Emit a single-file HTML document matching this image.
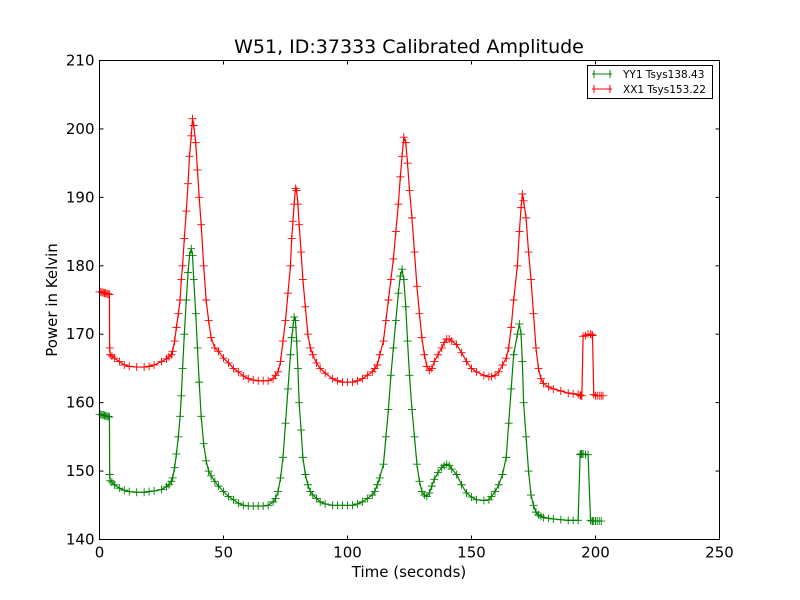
<!DOCTYPE html>
<html><head><meta charset="utf-8"><style>
body{margin:0;background:#fff;}
svg{display:block;font-family:"DejaVu Sans","Liberation Sans",sans-serif;}
</style></head><body>
<svg id="chart" width="800" height="600">
<rect x="0" y="0" width="800" height="600" fill="#fff"/>
<text x="409" y="53" font-size="19" text-anchor="middle">W51, ID:37333 Calibrated Amplitude</text>
<text x="409" y="577" font-size="15" text-anchor="middle">Time (seconds)</text>
<text transform="translate(57,300) rotate(-90)" font-size="15" text-anchor="middle">Power in Kelvin</text>
<g id="plot"></g>
<g id="axes"></g>
<g id="legend">
<rect x="587.5" y="65.5" width="125" height="33" fill="#fff" stroke="#000" stroke-width="1"/>
<g>
<line x1="592" y1="74" x2="612" y2="74" stroke="green"/><line x1="594" y1="70" x2="594" y2="78" stroke="green"/><line x1="610" y1="70" x2="610" y2="78" stroke="green"/>
<text x="623" y="78" font-size="10.5">YY1 Tsys138.43</text></g>
<g>
<line x1="592" y1="89" x2="612" y2="89" stroke="red"/><line x1="594" y1="85" x2="594" y2="93" stroke="red"/><line x1="610" y1="85" x2="610" y2="93" stroke="red"/>
<text x="623" y="93" font-size="10.5">XX1 Tsys153.22</text></g>
</g>
</svg>
<script>
const xTicks=[0,50,100,150,200,250];
const yTicks=[140,150,160,170,180,190,200,210];
const redT=[0,0.5,1,1.5,2,2.5,3,3.5,4,4.1,4.3,5,6,8,10,12,15,18,20,22,25,27,28,29,29.5,30.3,31,31.8,32.5,33,33.5,34.2,35,35.7,36.3,37,37.5,38,38.8,39.5,40.2,41,42,43,44,45,46.5,48,50,52,54,56,58,60,62,64,66,68,70,71,72,73,74,75,76,77,77.5,78,78.5,79,79.5,80,80.5,81.3,82,83,84,85,86,87.5,89,91,94,96,98,100,102,104,106,108,110,111,112,113,114.5,115.5,116.5,117.5,118.5,119.5,120.5,121.3,122,122.7,123.5,124.2,125,126,127,128,129,130,131,132,133,134,135,136.5,138,139,140,141,142,144,146,148,150,152,155,157,158,159.5,161,162.5,164,165,166,167,168.5,169.3,170,170.5,171,172,173,174,175,176,177,178,179,181,183,186,189,191,193,193.8,194.1,194.5,195,196,197,198,198.6,198.8,199.3,200,200.7,201.5,202.3,203];
const redV=[176.2,176.2,176.1,176.1,176,176,175.9,175.9,175.8,168,167,166.8,166.5,166,165.5,165.3,165.2,165.2,165.3,165.5,166,166.4,166.7,167,167.5,169,171,173,175,178,180,184,188,192,196,199,201.5,200.5,198,194,190,186,180,175,172,169.5,168,167.5,166.5,165.8,165,164.5,163.9,163.5,163.3,163.2,163.2,163.2,163.5,164,164.5,166,169,172,176,180,184,186.5,189,191.3,191,189,186,182,178,174,170,168,167,165.8,165,164.3,163.5,163.2,163,163,163,163.2,163.5,164,164.5,165,165.5,167,169,172,175,178,181,185,189,193,196,198.8,198,195,191,187,182,177,173,169.5,167,165.3,164.7,165,166,167,168,168.8,169.3,169.3,169,168.5,167.3,166,165,164.5,164,163.8,163.8,164,164.5,165.5,166.5,168,171,175,180,185,188.5,190.5,189.5,187,182,178,173,168,165,163.5,162.8,162.3,162,161.7,161.4,161.3,161.2,161.1,161,161,169.7,169.8,170,170,169.9,169.8,161.2,161,161,161,161,161,161,161];
const greenT=[0,0.5,1,1.5,2,2.5,3,3.5,4,4.1,4.3,5,6,8,10,12,15,18,20,22,25,27,28,29,29.5,30.3,31,31.8,32.5,33,33.5,34.2,35,35.7,36.3,37,37.5,38,38.8,39.5,40.2,41,42,43,44,45,46.5,48,50,52,54,56,58,60,62,64,66,68,70,71,72,73,74,75,76,77,77.5,78,78.5,79,79.5,80,80.5,81.3,82,83,84,85,86,87.5,89,91,94,96,98,100,102,104,106,108,110,111,112,113,114.5,115.5,116.5,117.5,118.5,119.5,120.5,121.3,122,122.7,123.5,124.2,125,126,127,128,129,130,131,132,133,134,135,136.5,138,139,140,141,142,144,146,148,150,152,155,157,158,159.5,161,162.5,164,165,166,167,168.5,169.3,170,170.5,171,172,173,174,175,176,177,178,179,181,183,186,189,191,193,193.8,194.1,194.5,195,196,197,198,198.6,198.8,199.3,200,200.7,201.5,202.3,203];
const greenV=[158.3,158.3,158.2,158.2,158.1,158.1,158,158,157.9,149.5,148.6,148.4,148,147.5,147.2,147,146.9,146.9,147,147.1,147.3,147.7,148,148.5,149,150.5,152.5,155,158,161,165,170,175,179,181.5,182.5,181.5,178,173,168,163,158,154,151.5,150,149.3,148.5,147.8,147,146.3,145.8,145.3,145,144.9,144.9,144.9,144.9,145,145.5,146,147,149,152,157,162,167,169.5,171,172.5,172,169,165,160,156,152,149.5,148,147,146.5,146,145.5,145.2,145,145,145,145,145,145.2,145.5,146,146.5,147,148,149,151,155,159,164,168,172,176,178.5,179.5,178,174,169,164,159,155,151,148.5,147,146.5,146.3,146.8,147.8,148.8,149.8,150.5,150.8,151,150.8,150.3,149.5,148,146.8,146.2,145.8,145.7,145.8,146.3,147,148,149.5,152,157,162,167,170,171.5,170,166,160,155,150,146.5,145,144,143.6,143.4,143.2,143.1,143,142.9,142.8,142.8,142.8,152.4,152.5,152.5,152.5,152.4,152.4,142.8,142.7,142.7,142.7,142.7,142.7,142.7,142.7];
const NS='http://www.w3.org/2000/svg';
const L=99.5,R=719.5,T=60.5,B=539.5;
const sx=t=>L+(t-0)/(250-0)*(R-L);
const sy=v=>B-(v-140)/(210-140)*(B-T);
const plot=document.getElementById('plot');
const axes=document.getElementById('axes');
function mk(tag,attrs,parent){const e=document.createElementNS(NS,tag);for(const k in attrs)e.setAttribute(k,attrs[k]);parent.appendChild(e);return e;}
function series(ts,vs,color,name){
  const g=mk('g',{},plot);
  
  
  const pts=ts.map((t,i)=>sx(t).toFixed(2)+','+sy(vs[i]).toFixed(2)).join(' ');
  const pl=mk('polyline',{points:pts,fill:'none',stroke:color,'stroke-width':1.2},g);
  
  
  let d='';
  ts.forEach((t,i)=>{const x=sx(t),y=sy(vs[i]);d+=`M${x-4},${y}H${x+4}M${x},${y-4}V${y+4}`;});
  const m=mk('path',{d:d,stroke:color,'stroke-width':0.9,fill:'none'},g);
  
  
}
series(greenT,greenV,'green','series-yy1');
series(redT,redV,'red','series-xx1');
const frame=mk('rect',{x:L,y:T,width:R-L,height:B-T,fill:'none',stroke:'#000','stroke-width':1},axes);


xTicks.forEach(t=>{
  const x=sx(t);
  mk('line',{x1:x,y1:B,x2:x,y2:B-4,stroke:'#000'},axes);
  mk('line',{x1:x,y1:T,x2:x,y2:T+4,stroke:'#000'},axes);
  const tx=mk('text',{x:x,y:B+18,'font-size':15,'text-anchor':'middle'},axes);
  tx.textContent=t;
  
  
});
yTicks.forEach(v=>{
  const y=sy(v);
  mk('line',{x1:L,y1:y,x2:L+4,y2:y,stroke:'#000'},axes);
  mk('line',{x1:R,y1:y,x2:R-4,y2:y,stroke:'#000'},axes);
  const tx=mk('text',{x:L-5,y:y+5,'font-size':15,'text-anchor':'end'},axes);
  tx.textContent=v;
  
  
});
</script>
</body></html>
